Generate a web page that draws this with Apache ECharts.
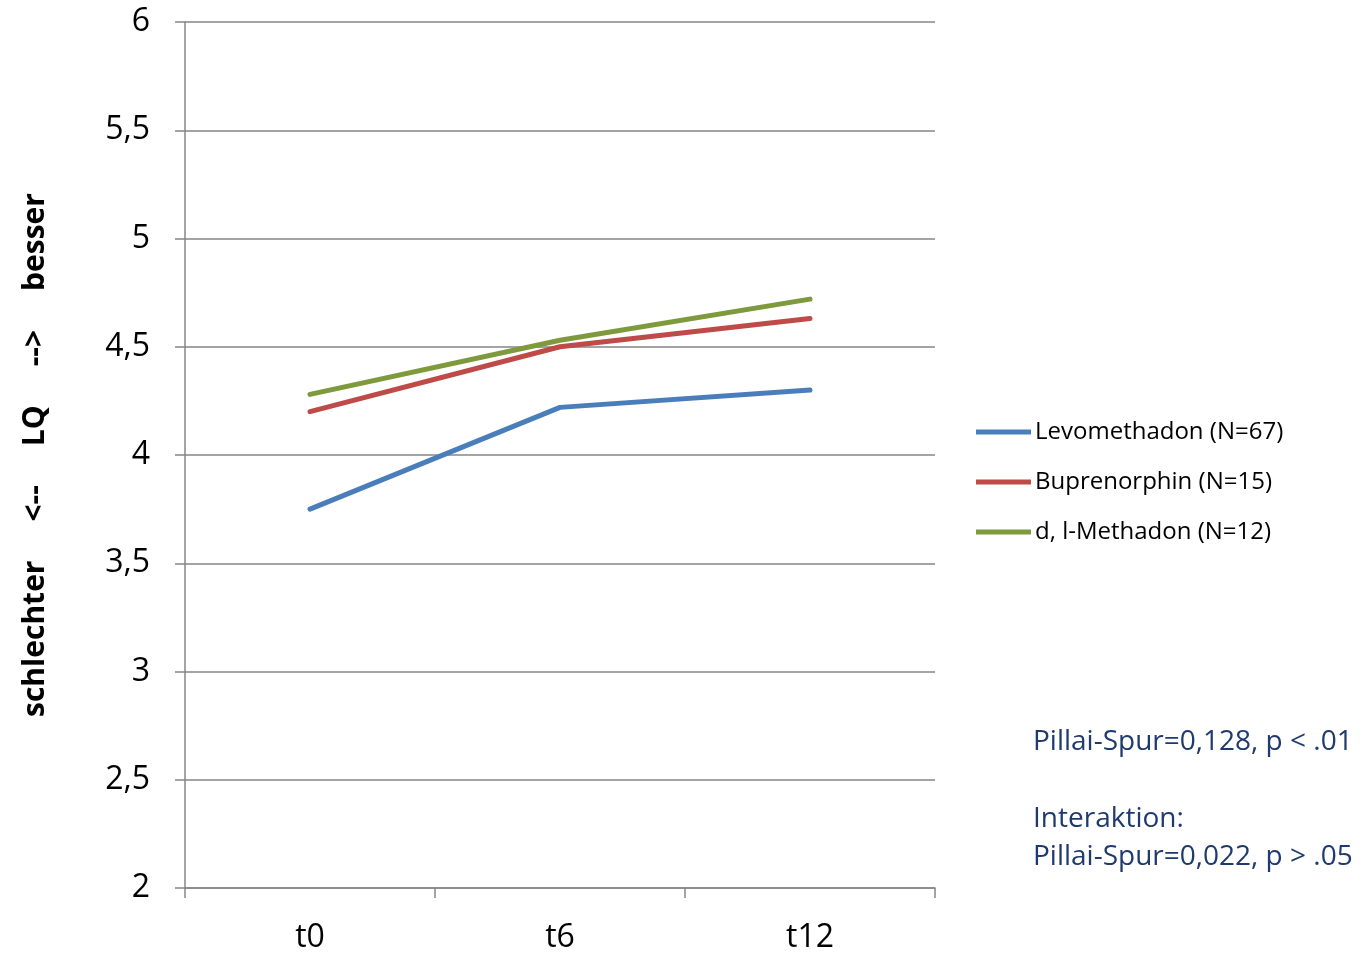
<!DOCTYPE html>
<html><head><meta charset="utf-8">
<script src="https://cdn.jsdelivr.net/npm/echarts@6/dist/echarts.min.js"></script>
<style>html,body{margin:0;padding:0;background:#fff}#c{width:1361px;height:954px}</style>
</head><body><div id="c"></div>
<script>
const categories = ['t0', 't6', 't12'];
const levomethadon = [3.75, 4.22, 4.30];
const buprenorphin = [4.20, 4.50, 4.63];
const dlMethadon = [4.28, 4.53, 4.72];
const seriesNames = ['Levomethadon (N=67)', 'Buprenorphin (N=15)', 'd, l-Methadon (N=12)'];
const yTitle = 'schlechter     <--     LQ     -->     besser';
const notes = ['Pillai-Spur=0,128, p < .01', 'Interaktion:', 'Pillai-Spur=0,022, p > .05'];

const FONT = 'Open Sans';
const chart = echarts.init(document.getElementById('c'), null, {renderer: 'canvas'});
const colors = ['#4A7EBB', '#BE4B48', '#7E9A3C'];
const mk = (name, data, color) => ({
  name, type: 'line', data, symbol: 'none', smooth: false,
  lineStyle: {color, width: 5, cap: 'round', join: 'round'},
  itemStyle: {color}
});
const NOTE = '#1F3A6E';
chart.setOption({
  animation: false,
  textStyle: {fontFamily: FONT},
  grid: {left: 185, right: 426, top: 22, bottom: 63, containLabel: false},
  xAxis: {
    type: 'category', data: categories, boundaryGap: true,
    axisLine: {lineStyle: {color: '#868686', width: 1.5}},
    axisTick: {show: true, inside: false, length: 10, lineStyle: {color: '#868686', width: 1.5}},
    axisLabel: {fontSize: 32, color: '#000', margin: 34, fontFamily: FONT},
    splitLine: {show: false}
  },
  yAxis: {
    type: 'value', min: 2, max: 6, interval: 0.5,
    axisLine: {show: true, lineStyle: {color: '#868686', width: 1.5}},
    axisTick: {show: true, inside: false, length: 10, lineStyle: {color: '#868686', width: 1.5}},
    axisLabel: {fontSize: 32, color: '#000', margin: 35, fontFamily: FONT,
      formatter: v => String(v).replace('.', ',')},
    splitLine: {show: true, lineStyle: {color: '#868686', width: 1.5}},
    name: yTitle, nameLocation: 'middle', nameGap: 135, nameRotate: 90,
    nameTextStyle: {fontSize: 30, fontWeight: 'bold', color: '#000', fontFamily: FONT}
  },
  legend: {
    orient: 'vertical', left: 971, top: 415, itemGap: 26,
    itemWidth: 55, itemHeight: 5,
    data: seriesNames.map(n => ({name: n, icon: 'path://M0,0 L55,0 L55,5 L0,5 Z'})),
    textStyle: {fontSize: 24, color: '#000', fontFamily: FONT, padding: [0,0,0,-1]}
  },
  graphic: [
    {type: 'text', x: 1033, y: 742, style: {text: notes[0], fontSize: 28, fill: NOTE, fontFamily: FONT, verticalAlign: 'middle'}},
    {type: 'text', x: 1033, y: 819, style: {text: notes[1], fontSize: 28, fill: NOTE, fontFamily: FONT, verticalAlign: 'middle'}},
    {type: 'text', x: 1033, y: 857, style: {text: notes[2], fontSize: 28, fill: NOTE, fontFamily: FONT, verticalAlign: 'middle'}}
  ],
  series: [
    mk(seriesNames[0], levomethadon, colors[0]),
    mk(seriesNames[1], buprenorphin, colors[1]),
    mk(seriesNames[2], dlMethadon, colors[2])
  ]
});
</script></body></html>
